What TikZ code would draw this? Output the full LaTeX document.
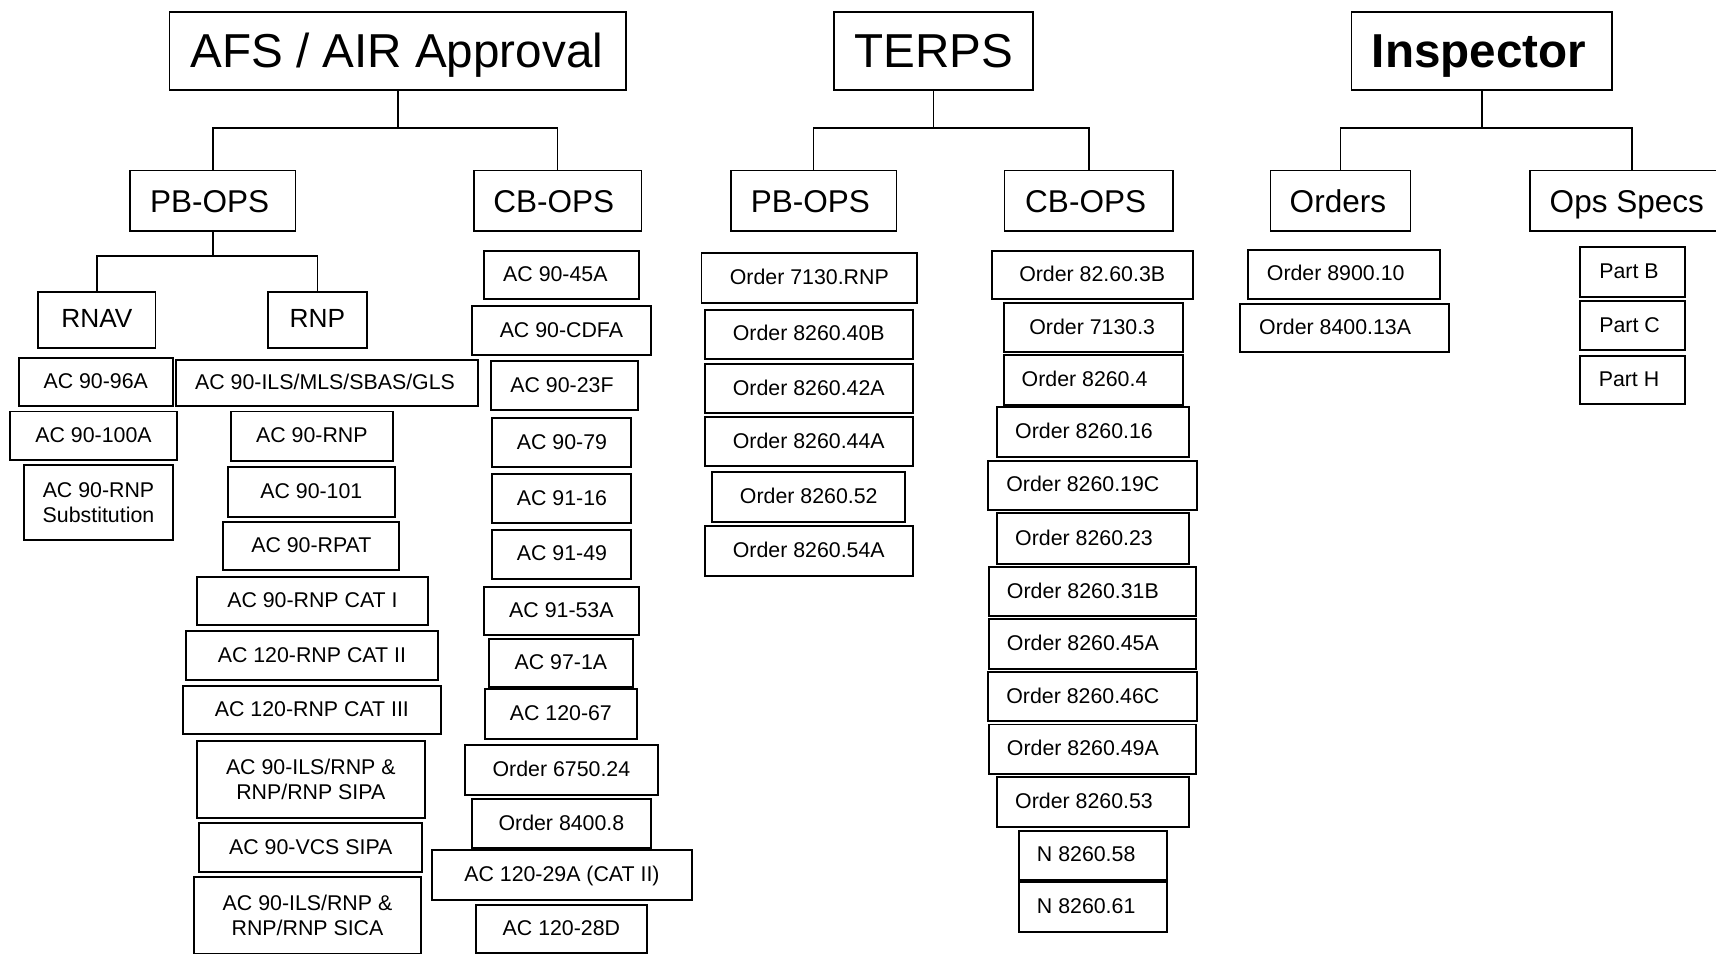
\documentclass[tikz,border=0pt]{standalone}
\usepackage{fontspec}
\setmainfont{Liberation Sans}
\newcommand{\boxat}[7][sm]{\node[#1,minimum width={#4-#3},minimum height={#6-#5}] (#2) at ({(#3+#4)/2},{(#5+#6)/2}) {#7};}
\newcommand{\sh}[1]{\hspace*{#1pt}}
\begin{document}
\begin{tikzpicture}[x=1pt,y=-1pt,
  base/.style={draw=black,inner sep=0pt,outer sep=0pt,align=center},
  top/.style={base,line width=1.4pt,font=\fontsize{43.5}{50}\selectfont,text height=31.1pt,text depth=0pt},
  mid/.style={base,line width=1.4pt,font=\fontsize{28.8}{34}\selectfont,text height=20.6pt,text depth=0pt},
  rn/.style={base,line width=1.6pt,font=\fontsize{24}{28}\selectfont,text height=17.2pt,text depth=3.6pt},
  sm/.style={base,line width=1.8pt,font=\fontsize{19.5}{23}\selectfont,text height=14pt,text depth=2pt},
  smtwo/.style={base,line width=1.8pt,font=\fontsize{19.5}{23}\selectfont},
  conn/.style={draw=black,line width=1.4pt}]
\useasboundingbox (0,0) rectangle (1568,871);
\fill[white] (0,0) rectangle (1568,871);
% top level
\boxat[top]{afs}{155}{572}{11}{82}{\sh{-2}AFS / AIR Approval}
\boxat[top]{terps}{762}{944}{11}{82}{TERPS}
\boxat[top,font=\fontsize{43.5}{50}\selectfont\bfseries]{insp}{1235}{1473}{11}{82}{\sh{-5}Inspector}
% second level
\boxat[mid]{pb1}{119}{270}{156}{211}{\sh{-6}PB-OPS}
\boxat[mid]{cb1}{433}{586}{156}{211}{\sh{-7}CB-OPS}
\boxat[mid]{pb2}{668}{819}{156}{211}{\sh{-6}PB-OPS}
\boxat[mid]{cb2}{918}{1072}{156}{211}{\sh{-6}CB-OPS}
\boxat[mid]{ord}{1161}{1289}{156}{211}{\sh{-5}Orders}
\boxat[mid]{ops}{1398}{1584}{156}{211}{\sh{-9}Ops Specs}
% third level
\boxat[rn]{rnav}{35}{142}{267}{318}{RNAV}
\boxat[rn]{rnp}{245}{335}{267}{318}{RNP}
% connectors
\coordinate (j1) at (afs.south |- 0,117);
\coordinate (j2) at (terps.south |- 0,117);
\coordinate (j3) at (insp.south |- 0,117);
\coordinate (j4) at (pb1.south |- 0,234);
\draw[conn] (afs.south) -- (j1);
\draw[conn] (pb1.north) |- (j1) -| (cb1.north);
\draw[conn] (terps.south) -- (j2);
\draw[conn] (pb2.north) |- (j2) -| (cb2.north);
\draw[conn] (insp.south) -- (j3);
\draw[conn] (ord.north) |- (j3) -| (ops.north);
\draw[conn] (pb1.south) -- (j4);
\draw[conn] (rnav.north) |- (j4) -| (rnp.north);
% RNAV items
\boxat{a1}{17}{158}{327}{371}{AC 90-96A}
\boxat{a2}{9}{162}{376}{420}{AC 90-100A}
\boxat[smtwo]{a3}{22}{158}{425}{493}{AC 90-RNP\\Substitution}
% RNP items
\boxat{b1}{161}{437}{329}{371}{\sh{-4}AC 90-ILS/MLS/SBAS/GLS}
\boxat{b2}{211}{359}{376}{421}{AC 90-RNP}
\boxat{b3}{208}{361}{427}{472}{AC 90-101}
\boxat{b4}{204}{365}{477}{521}{AC 90-RPAT}
\boxat{b5}{180}{391}{527}{571}{AC 90-RNP CAT I}
\boxat{b6}{170}{400}{577}{621}{AC 120-RNP CAT II}
\boxat{b7}{167}{403}{627}{671}{AC 120-RNP CAT III}
\boxat[smtwo]{b8}{180}{388}{677}{747}{AC 90-ILS/RNP \&\\RNP/RNP SIPA}
\boxat{b9}{182}{386}{752}{797}{AC 90-VCS SIPA}
\boxat[smtwo]{b10}{177}{385}{801}{872}{AC 90-ILS/RNP \&\\RNP/RNP SICA}
% CB-OPS (AFS) items
\boxat{c1}{442}{584}{229}{273}{\sh{-11}AC 90-45A}
\boxat{c2}{431}{595}{280}{324}{AC 90-CDFA}
\boxat{c3}{449}{583}{330}{375}{\sh{-5}AC 90-23F}
\boxat{c4}{450}{577}{382}{427}{AC 90-79}
\boxat{c5}{450}{577}{433}{478}{AC 91-16}
\boxat{c6}{450}{577}{484}{529}{AC 91-49}
\boxat{c7}{442}{584}{536}{580}{AC 91-53A}
\boxat{c8}{447}{578}{584}{628}{AC 97-1A}
\boxat{c9}{443}{582}{630}{675}{AC 120-67}
\boxat{c10}{425}{601}{681}{726}{Order 6750.24}
\boxat{c11}{431}{595}{730}{775}{Order 8400.8}
\boxat{c12}{395}{632}{777}{822}{AC 120-29A (CAT II)}
\boxat{c13}{435}{591}{827}{871}{AC 120-28D}
% PB-OPS (TERPS) items
\boxat{d1}{641}{838}{231}{277}{Order 7130.RNP}
\boxat{d2}{644}{834}{283}{328}{Order 8260.40B}
\boxat{d3}{644}{834}{333}{377}{Order 8260.42A}
\boxat{d4}{644}{834}{381}{426}{Order 8260.44A}
\boxat{d5}{651}{827}{431}{477}{Order 8260.52}
\boxat{d6}{644}{834}{481}{526}{Order 8260.54A}
% CB-OPS (TERPS) items
\boxat{e1}{906}{1090}{229}{273}{Order 82.60.3B}
\boxat{e2}{917}{1081}{277}{322}{\sh{-2}Order 7130.3}
\boxat{e3}{917}{1081}{324}{370}{\sh{-16}Order 8260.4}
\boxat{e4}{911}{1086}{372}{418}{\sh{-16}Order 8260.16}
\boxat{e5}{903}{1094}{421}{466}{\sh{-18}Order 8260.19C}
\boxat{e6}{911}{1086}{469}{515}{\sh{-16}Order 8260.23}
\boxat{e7}{904}{1093}{518}{563}{\sh{-18}Order 8260.31B}
\boxat{e8}{904}{1093}{566}{611}{\sh{-18}Order 8260.45A}
\boxat{e9}{903}{1094}{614}{659}{\sh{-18}Order 8260.46C}
\boxat{e10}{904}{1093}{662}{707}{\sh{-18}Order 8260.49A}
\boxat{e11}{911}{1086}{710}{756}{\sh{-16}Order 8260.53}
\boxat{e12}{931}{1066}{759}{804}{\sh{-12}N 8260.58}
\boxat{e13}{931}{1066}{806}{852}{\sh{-12}N 8260.61}
% Inspector items
\boxat{f1}{1140}{1316}{228}{273}{\sh{-15}Order 8900.10}
\boxat{f2}{1133}{1324}{278}{322}{\sh{-17}Order 8400.13A}
\boxat{g1}{1444}{1540}{226}{271}{\sh{-7}Part B}
\boxat{g2}{1444}{1540}{275}{320}{\sh{-6}Part C}
\boxat{g3}{1444}{1540}{325}{369}{\sh{-7}Part H}
\end{tikzpicture}
\end{document}
